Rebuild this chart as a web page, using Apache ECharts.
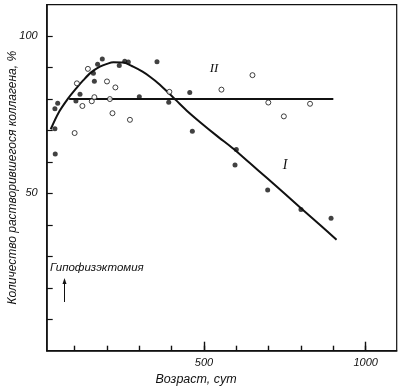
<!DOCTYPE html>
<html>
<head>
<meta charset="utf-8">
<script src="https://cdn.jsdelivr.net/npm/echarts@6/dist/echarts.min.js"></script>
<style>html,body{margin:0;padding:0;background:#fff}#c{width:400px;height:390px}</style>
</head>
<body>
<div id="c"></div>
<script>
// Curve I (fitted curve) points: age (days), % collagen dissolved
var curveIAge = [26, 50, 80, 105, 127, 150, 178, 200, 220, 250, 281, 310, 333, 360, 385, 415, 446, 490, 540, 591, 640, 694, 750, 800, 860, 910];
var curveIVal = [70.4, 75.6, 80.2, 83.4, 86, 88.4, 90.3, 91.2, 91.7, 91.6, 90.3, 88.7, 87.1, 84.9, 82.5, 79.5, 76.4, 72.5, 68.3, 64.2, 59.8, 55.0, 49.9, 45.3, 39.9, 35.3];
// Curve II (horizontal line)
var curveIIAge = [83, 900];
var curveIIVal = [80, 80];
// Filled points (I)
var ptsIAge = [40, 39, 39, 47.6, 104, 116.6, 158, 161, 171, 185.5, 238, 255, 266, 300, 354.7, 391, 456, 464, 596, 600, 697, 800, 893];
var ptsIVal = [62.5, 70.6, 76.9, 78.7, 79.4, 81.5, 88.2, 85.7, 91.1, 92.7, 90.7, 92, 91.8, 80.7, 91.9, 79, 82.1, 69.8, 59, 64, 51.1, 44.9, 42.1];
// Open points (II)
var ptsIIAge = [100, 107, 124, 141, 153, 161, 200, 209, 217, 226, 271, 393, 554, 650, 699, 747, 828];
var ptsIIVal = [69.2, 85, 77.8, 89.6, 79.3, 80.6, 85.6, 80, 75.5, 83.7, 73.4, 82.3, 83, 87.6, 78.9, 74.5, 78.5];
// Ticks
var xTicks = [100, 200, 300, 400, 500, 600, 700, 800, 900, 1000];
var xMajorTicks = [500, 1000];
var xLabels = [500, 1000];
var yTicks = [10, 20, 30, 40, 50, 60, 70, 80, 90, 100];
var yLabels = [50, 100];

function zip(a, b) { return a.map(function (v, i) { return [v, b[i]]; }); }

var FONT = '"Liberation Sans Narrow", "Liberation Sans", sans-serif';
var chart = echarts.init(document.getElementById('c'), null, {renderer: 'canvas'});
var option = {
  animation: false,
  grid: {left: 46.7, right: 3.3, top: 4.7, bottom: 39.3, outerBoundsMode: 'none', containLabel: false, show: true, borderColor: '#111', borderWidth: 1.2, backgroundColor: 'transparent'},
  xAxis: [{
    type: 'value', min: 13.6, max: 1096, position: 'bottom',
    axisLine: {show: true, lineStyle: {color: '#111', width: 1.6}},
    axisTick: {show: true, inside: true, length: 5, customValues: xTicks, lineStyle: {color: '#111', width: 1.4}},
    axisLabel: {customValues: xLabels, formatter: function (v) { return String(v); }, color: '#111', fontSize: 11, fontStyle: 'italic', fontFamily: FONT, margin: 7},
    splitLine: {show: false}
  }, {
    type: 'value', min: 13.6, max: 1096, position: 'bottom', offset: 0,
    axisLine: {show: false},
    axisTick: {show: true, inside: true, length: 9, customValues: xMajorTicks, lineStyle: {color: '#111', width: 1.4}},
    axisLabel: {show: false},
    splitLine: {show: false}
  }],
  yAxis: {
    type: 'value', min: 0, max: 110,
    name: 'Количество растворившегося коллагена, %',
    nameLocation: 'middle', nameGap: 28, nameRotate: 90, nameMoveOverlap: false,
    nameTextStyle: {color: '#111', fontSize: 12, fontStyle: 'italic', fontFamily: FONT},
    axisLine: {show: true, lineStyle: {color: '#111', width: 1.6}},
    axisTick: {show: true, inside: true, length: 6, customValues: yTicks, lineStyle: {color: '#111', width: 1.2}},
    axisLabel: {customValues: yLabels, color: '#111', fontSize: 11, fontStyle: 'italic', fontFamily: FONT, margin: 9},
    splitLine: {show: false}
  },
  series: [
    {type: 'line', data: zip(curveIAge, curveIVal), smooth: 0.3, symbol: 'none', lineStyle: {color: '#111', width: 2}, z: 2},
    {type: 'line', data: zip(curveIIAge, curveIIVal), symbol: 'none', lineStyle: {color: '#111', width: 2}, z: 2},
    {type: 'scatter', data: zip(ptsIAge, ptsIVal), symbol: 'circle', symbolSize: 5, itemStyle: {color: '#111'}, z: 3},
    {type: 'scatter', data: zip(ptsIIAge, ptsIIVal), symbol: 'circle', symbolSize: 5, itemStyle: {color: '#fff', borderColor: '#111', borderWidth: 1}, z: 3}
  ],
  graphic: [
    {type: 'text', style: {text: 'Возраст, сут', x: 196, y: 380, align: 'center', verticalAlign: 'middle', font: 'italic 12.5px ' + FONT, fill: '#111'}},
    {type: 'text', style: {text: 'Гипофизэктомия', x: 50, y: 268, align: 'left', verticalAlign: 'middle', font: 'italic 11.5px ' + FONT, fill: '#111'}},
    {type: 'line', shape: {x1: 64.5, y1: 302, x2: 64.5, y2: 281}, style: {stroke: '#111', lineWidth: 1}},
    {type: 'polygon', shape: {points: [[64.5, 278], [62.5, 284], [66.5, 284]]}, style: {fill: '#111'}},
    {type: 'text', style: {text: 'II', x: 214, y: 69, align: 'center', verticalAlign: 'middle', font: 'italic 13px "Liberation Serif", serif', fill: '#111'}},
    {type: 'text', style: {text: 'I', x: 285, y: 165, align: 'center', verticalAlign: 'middle', font: 'italic 14px "Liberation Serif", serif', fill: '#111'}}
  ]
};
chart.setOption(option);
</script>
</body>
</html>
